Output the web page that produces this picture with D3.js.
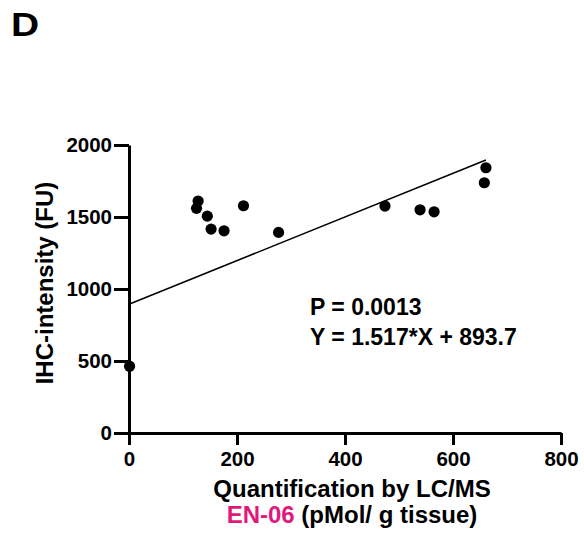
<!DOCTYPE html>
<html>
<head>
<meta charset="utf-8">
<script src="https://cdn.jsdelivr.net/npm/d3@7"></script>
<style>
  body { margin: 0; background: #fff; }
  text { font-family: "Liberation Sans", Arial, sans-serif; font-weight: bold; }
  .axis path, .axis line { stroke: #000; stroke-width: 3; }
</style>
</head>
<body>
<div id="chart"></div>
<script>
// values
var lcms = [1, 125, 128, 145, 152, 176, 212, 277, 474, 539, 565, 658, 661];
var ihc = [464, 1560, 1611, 1506, 1416, 1404, 1578, 1393, 1576, 1550, 1536, 1738, 1842];
var xTicks = [0, 200, 400, 600, 800];
var yTicks = [0, 500, 1000, 1500, 2000];
var slope = 1.517, intercept = 893.7;

var width = 584, height = 535;
var margin = {left: 129, right: 23, top: 145, bottom: 102};

var svg = d3.select("#chart").append("svg")
    .attr("width", width)
    .attr("height", height);

var x = d3.scaleLinear()
    .domain([0, 800])
    .range([margin.left, width - margin.right]);

var y = d3.scaleLinear()
    .domain([0, 2000])
    .range([height - margin.bottom, margin.top]);

// panel letter, a bit wider than plain bold
svg.append("text")
    .attr("transform", "translate(11,36) scale(1.18,1)")
    .style("font-size", "33px")
    .text("D");

// fit line
svg.append("line")
    .attr("x1", x(0))
    .attr("y1", y(intercept))
    .attr("x2", x(d3.max(lcms)))
    .attr("y2", y(slope * d3.max(lcms) + intercept))
    .attr("stroke", "#000")
    .attr("stroke-width", 1.6);

svg.append("g")
  .selectAll("circle")
  .data(lcms)
  .enter().append("circle")
    .attr("cx", function(d) { return x(d); })
    .attr("cy", function(d, i) { return y(ihc[i]); })
    .attr("r", 5.6)
    .attr("fill", "#000");

var xAxis = svg.append("g")
    .attr("class", "axis")
    .attr("transform", "translate(0," + y(0) + ")")
    .call(d3.axisBottom(x).tickValues(xTicks).tickFormat(d3.format("d"))
      .tickSize(12).tickSizeOuter(0).tickPadding(6));

var yAxis = svg.append("g")
    .attr("class", "axis")
    .attr("transform", "translate(" + x(0) + ",0)")
    .call(d3.axisLeft(y).tickValues(yTicks).tickFormat(d3.format("d"))
      .tickSize(15).tickSizeOuter(0).tickPadding(2));

svg.selectAll(".axis text")
    .style("font-family", "'Liberation Sans', Arial, sans-serif")
    .style("font-weight", "bold")
    .style("font-size", "20.5px")
    .attr("fill", "#000");

svg.append("text")
    .attr("transform", "translate(53,283) rotate(-90)")
    .attr("text-anchor", "middle")
    .style("font-size", "24px")
    .text("IHC-intensity (FU)");

svg.append("text")
    .attr("x", 352)
    .attr("y", 497)
    .attr("text-anchor", "middle")
    .style("font-size", "24px")
    .text("Quantification by LC/MS");

var sub = svg.append("text")
    .attr("x", 352)
    .attr("y", 523)
    .attr("text-anchor", "middle")
    .style("font-size", "24px");
sub.append("tspan").attr("fill", "#e2197c").text("EN-06");
sub.append("tspan").text(" (pMol/ g tissue)");

svg.append("text")
    .attr("x", 310)
    .attr("y", 315)
    .style("font-size", "23px")
    .text("P = 0.0013");

svg.append("text")
    .attr("x", 310)
    .attr("y", 345)
    .style("font-size", "23px")
    .text("Y = " + slope + "*X + " + intercept);
</script>
</body>
</html>
